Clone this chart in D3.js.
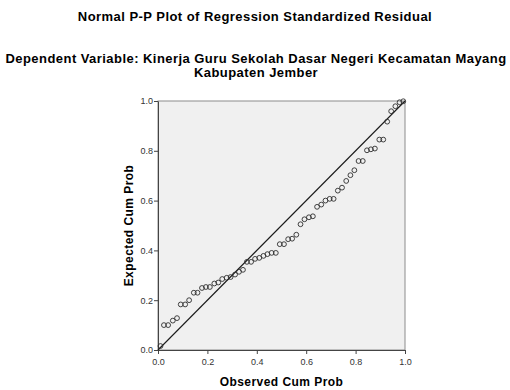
<!DOCTYPE html>
<html>
<head>
<meta charset="utf-8">
<script src="https://cdn.jsdelivr.net/npm/d3@7"></script>
<style>
	body { margin: 0; background: #fff; }
	text { font-family: "Liberation Sans", Arial, sans-serif; }
	.title { font-size: 13px; font-weight: bold; fill: #000; letter-spacing: 0.45px; }
	.axisTitle { font-size: 12px; font-weight: bold; fill: #000; letter-spacing: 0.45px; }
	.tick text { font-size: 9px; fill: #333; }
</style>
</head>
<body>
<div id="ppChart"></div>
<script>
var titleText = "Normal P-P Plot of Regression Standardized Residual";
var subtitleLines = ["Dependent Variable: Kinerja Guru Sekolah Dasar Negeri Kecamatan Mayang", "Kabupaten Jember"];
var xLabel = "Observed Cum Prob";
var yLabel = "Expected Cum Prob";
var tickValues = [0, 0.2, 0.4, 0.6, 0.8, 1.0];

// observed cumulative probability
var observed = [0.010, 0.024, 0.041, 0.060, 0.077, 0.092, 0.110, 0.126, 0.145, 0.160,
	0.178, 0.194, 0.210, 0.228, 0.244, 0.260, 0.278, 0.294, 0.312, 0.328,
	0.344, 0.360, 0.377, 0.393, 0.410, 0.427, 0.443, 0.460, 0.477, 0.493,
	0.510, 0.527, 0.543, 0.560, 0.577, 0.593, 0.611, 0.627, 0.644, 0.661,
	0.678, 0.695, 0.711, 0.728, 0.745, 0.762, 0.779, 0.795, 0.812, 0.829,
	0.846, 0.862, 0.878, 0.896, 0.912, 0.928, 0.944, 0.961, 0.978, 0.993];
// expected cumulative probability
var expected = [0.016, 0.100, 0.100, 0.118, 0.128, 0.183, 0.183, 0.200, 0.230, 0.230,
	0.249, 0.253, 0.253, 0.267, 0.271, 0.285, 0.290, 0.293, 0.303, 0.314,
	0.322, 0.354, 0.354, 0.366, 0.370, 0.378, 0.385, 0.390, 0.390, 0.425,
	0.425, 0.445, 0.447, 0.463, 0.505, 0.525, 0.533, 0.537, 0.575, 0.584,
	0.600, 0.607, 0.607, 0.640, 0.652, 0.679, 0.702, 0.722, 0.759, 0.759,
	0.802, 0.806, 0.809, 0.845, 0.845, 0.917, 0.959, 0.979, 0.995, 0.999];

var margin = {top: 101, right: 105, bottom: 40, left: 158},
	totalWidth = 510,
	totalHeight = 390,
	width = 247,
	height = 249;

var points = observed.map(function(d, i) {
	return {x: d, y: expected[i]};
});

var xScale = d3.scaleLinear()
	.domain([0, 1])
	.range([0, width])
;

var yScale = d3.scaleLinear()
	.domain([0, 1])
	.range([height, 0])
;

var svg = d3.select("#ppChart")
	.append("svg")
	.attr("width", totalWidth)
	.attr("height", totalHeight)
;

/*
	Titles
*/
svg.append("text")
	.attr("class", "title")
	.attr("x", 255)
	.attr("y", 21)
	.attr("text-anchor", "middle")
	.text(titleText)
;

svg.selectAll("text.subtitle")
	.data(subtitleLines)
	.enter()
	.append("text")
	.attr("class", "title subtitle")
	.attr("x", 256)
	.attr("y", function(d, i) { return 63 + i * 14; })
	.attr("text-anchor", "middle")
	.text(function(d) { return d; })
;

var plot = svg
	.append("g")
	.attr("transform", "translate(" + margin.left + "," + margin.top + ")")
;

plot.append("rect")
	.attr("x", 0)
	.attr("y", 0)
	.attr("width", width)
	.attr("height", height)
	.attr("fill", "#f0f0f0")
	.attr("stroke", "#8c8c8c")
	.attr("stroke-width", 1)
;

/*
	Axes
*/
var xAxis = d3.axisBottom(xScale)
	.tickValues(tickValues)
	.tickFormat(d3.format(".1f"))
	.tickSize(4)
	.tickSizeOuter(0)
;

var yAxis = d3.axisLeft(yScale)
	.tickValues(tickValues)
	.tickFormat(d3.format(".1f"))
	.tickSize(4)
	.tickSizeOuter(0)
;

var gx = plot.append("g")
	.attr("transform", "translate(0," + height + ")")
	.call(xAxis)
;

var gy = plot.append("g")
	.call(yAxis)
;

[gx, gy].forEach(function(g) {
	g.select(".domain").attr("stroke", "#444");
	g.selectAll(".tick line").attr("stroke", "#444");
	g.selectAll(".tick text").attr("font-family", null).attr("font-size", null);
});
gx.selectAll(".tick text").attr("dy", "0.9em");
gy.selectAll(".tick text").attr("x", -5);

/*
	Reference diagonal
*/
plot.append("line")
	.attr("x1", xScale(0))
	.attr("y1", yScale(0))
	.attr("x2", xScale(1))
	.attr("y2", yScale(1))
	.attr("stroke", "#1a1a1a")
	.attr("stroke-width", 1.1)
;

plot.selectAll("circle")
	.data(points)
	.enter()
	.append("circle")
	.attr("cx", function(d) { return xScale(d.x); })
	.attr("cy", function(d) { return yScale(d.y); })
	.attr("r", 2.4)
	.attr("fill", "none")
	.attr("stroke", "#2e2e2e")
	.attr("stroke-width", 0.9)
;

/*
	Axis titles
*/
svg.append("text")
	.attr("class", "axisTitle")
	.attr("x", margin.left + width / 2)
	.attr("y", 386)
	.attr("text-anchor", "middle")
	.text(xLabel)
;

svg.append("text")
	.attr("class", "axisTitle")
	.attr("transform", "translate(133," + (margin.top + height / 2) + ") rotate(-90)")
	.attr("text-anchor", "middle")
	.text(yLabel)
;
</script>
</body>
</html>
